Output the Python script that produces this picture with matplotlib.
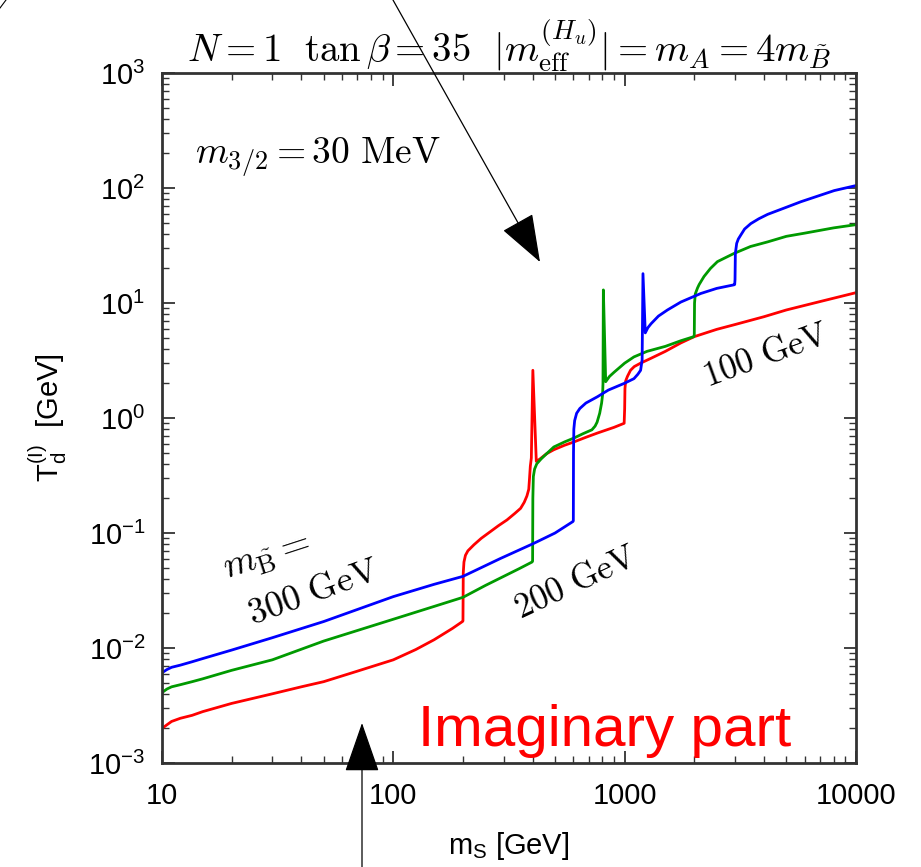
import numpy as np
import matplotlib
matplotlib.use("Agg")
import matplotlib.pyplot as plt
from matplotlib.ticker import LogLocator, FixedLocator, FuncFormatter, NullFormatter

plt.rcParams['font.family'] = ['Liberation Sans', 'DejaVu Sans']
plt.rcParams['mathtext.fontset'] = 'cm'

# ---- curves: T_d (imaginary part) vs m_S, for three bino masses ----
red_ms = [10, 10.5, 11, 12, 13.5, 15, 20, 30, 40, 50, 70, 100, 125, 150, 180, 199, 200, 200.6, 202, 205,
          210, 223, 240, 263, 285, 310, 335, 355, 368, 378, 385, 388, 391, 395, 401, 415, 430, 460, 494,
          550, 604, 680, 762, 900, 995, 1000, 1003, 1010, 1028, 1060, 1100, 1172, 1297, 1500, 1750, 2000,
          2500, 3000, 4000, 5000, 7000, 10000]
red_T = [0.0020, 0.00215, 0.0023, 0.00245, 0.0026, 0.0028, 0.0033, 0.0040, 0.0046, 0.0051, 0.0063, 0.0079,
         0.0097, 0.0118, 0.0148, 0.0170, 0.0172, 0.045, 0.056, 0.064,
         0.070, 0.079, 0.090, 0.103, 0.116, 0.13, 0.148, 0.164, 0.185, 0.21, 0.24, 0.30, 0.38, 0.45, 2.6,
         0.42, 0.44, 0.49, 0.53,
         0.58, 0.62, 0.68, 0.74, 0.83, 0.90, 1.2, 1.8, 2.1, 2.3, 2.6, 2.8, 3.0, 3.3, 3.8, 4.5, 5.1,
         5.9, 6.5, 7.6, 8.7, 10.3, 12.3]

green_ms = [10, 10.5, 11, 12, 13.5, 15, 20, 30, 50, 100, 150, 200, 250, 300, 350, 398, 400, 401, 403, 408,
            417, 435, 450, 494, 550, 604, 660, 722, 745, 760, 780, 795, 803, 806, 809, 828, 860, 900, 1000,
            1097, 1250, 1500, 1750, 1990, 2000, 2005, 2020, 2065, 2100, 2203, 2350, 2518, 2750, 2972, 3500,
            4150, 5000, 6000, 8000, 10000]
green_T = [0.0041, 0.0044, 0.0046, 0.0048, 0.0051, 0.0054, 0.0064, 0.0079, 0.0115, 0.0178, 0.023, 0.0276,
           0.035, 0.042, 0.049, 0.056, 0.057, 0.2, 0.31, 0.36,
           0.40, 0.44, 0.47, 0.56, 0.62, 0.67, 0.73, 0.79, 0.85, 0.92, 1.1, 1.35, 1.6, 2.0, 13.0, 2.07,
           2.3, 2.5, 3.0,
           3.4, 3.8, 4.2, 4.7, 5.1, 5.3, 10.0, 12.0, 13.5, 14.5, 17.0, 20.0, 22.9, 25.0, 27.0, 31.0,
           34.0, 38.0, 40.5, 45.0, 48.0]

blue_ms = [10, 10.5, 11, 12, 13.5, 15, 20, 30, 50, 100, 150, 200, 290, 403, 500, 598, 600, 601, 603, 608,
           620, 640, 680, 762, 850, 995, 1097, 1140, 1172, 1190, 1200, 1228, 1260, 1300, 1400, 1531, 1750,
           2133, 2500, 2972, 2990, 3000, 3010, 3050, 3100, 3177, 3300, 3508, 3800, 4150, 5000, 5781, 8057,
           10000]
blue_T = [0.0061, 0.0065, 0.0068, 0.0071, 0.0076, 0.0081, 0.0096, 0.0123, 0.017, 0.028, 0.0358, 0.042,
          0.060, 0.081, 0.10, 0.126, 0.128, 0.5, 0.8, 0.95,
          1.1, 1.21, 1.35, 1.53, 1.75, 2.0, 2.2, 2.4, 2.6, 3.2, 18.0, 5.5, 6.1, 6.6, 7.7, 8.7, 10.2,
          12.1, 13.4, 14.4, 14.5, 16.0, 27.0, 33.0, 36.0, 39.0, 44.0, 49.0, 54.0, 59.0, 68.0, 76.0, 95.0,
          105.0]

x_ticks = [10, 100, 1000, 10000]
y_exps = [-3, -2, -1, 0, 1, 2, 3]

fig = plt.figure(figsize=(9.21, 8.67), dpi=100)
ax = fig.add_axes([0.1759, 0.1199, 0.7535, 0.7959])

lw = 2.0
ax.plot(red_ms, red_T, color='#ff0000', lw=lw)
ax.plot(green_ms, green_T, color='#009a00', lw=lw)
ax.plot(blue_ms, blue_T, color='#0000ff', lw=lw)

ax.set_xscale('log')
ax.set_yscale('log')
ax.set_xlim(10, 10000)
ax.set_ylim(1e-3, 1e3)

ax.xaxis.set_major_locator(FixedLocator(x_ticks))
ax.xaxis.set_major_formatter(FuncFormatter(lambda v, p: '%d' % v))
ax.xaxis.set_minor_locator(LogLocator(base=10, subs=np.arange(2, 10)))
ax.xaxis.set_minor_formatter(NullFormatter())
ax.yaxis.set_major_locator(FixedLocator([10.0 ** e for e in y_exps]))
ax.yaxis.set_major_formatter(FuncFormatter(
    lambda v, p: r'$\mathregular{10^{%d}}$' % int(round(np.log10(v)))))
ax.yaxis.set_minor_locator(LogLocator(base=10, subs=np.arange(2, 10)))
ax.yaxis.set_minor_formatter(NullFormatter())

ax.tick_params(which='both', direction='in', top=True, right=True, color='#333333')
ax.tick_params(which='major', length=9, width=1.3, labelsize=21)
ax.tick_params(which='minor', length=5, width=1.0)
ax.tick_params(axis='x', pad=14)
ax.tick_params(axis='y', pad=12)
for s in ax.spines.values():
    s.set_linewidth(2.0)
    s.set_color('#333333')

ax.set_xlabel(r'$\mathregular{m_S}$ [GeV]', fontsize=21, labelpad=14)
ax.set_ylabel(r'$\mathregular{T_d^{(I)}}$  [GeV]', fontsize=21, labelpad=14)

# annotations
fig.text(0.553, 0.948,
         r'$N=1\ \ \tan\beta=35\ \ |m_{\rm eff}^{(H_u)}|=m_A=4m_{\tilde{B}}$',
         fontsize=28, ha='center', va='center')
ax.text(0.048, 0.878, r'$m_{3/2}=30\ {\rm MeV}$', transform=ax.transAxes, fontsize=27,
        ha='left', va='center')
ax.text(0.152, 0.298, r'$m_{\tilde{\rm B}}=$', transform=ax.transAxes, fontsize=27,
        rotation=18, ha='center', va='center')
ax.text(0.218, 0.247, r'$300\ {\rm GeV}$', transform=ax.transAxes, fontsize=26,
        rotation=20, ha='center', va='center')
ax.text(0.596, 0.262, r'$200\ {\rm GeV}$', transform=ax.transAxes, fontsize=25,
        rotation=25, ha='center', va='center')
ax.text(0.870, 0.590, r'$100\ {\rm GeV}$', transform=ax.transAxes, fontsize=25,
        rotation=20, ha='center', va='center')
ax.text(0.638, 0.047, 'Imaginary part', transform=ax.transAxes, fontsize=42,
        color='#ff0000', ha='center', va='center')

# pointer arrows drawn over the figure
W, H = 921.0, 867.0
fig.add_artist(matplotlib.patches.FancyArrowPatch(
    (393 / W, 1.0), (540 / W, 1 - 262 / H), transform=fig.transFigure,
    arrowstyle='-|>,head_length=2.2,head_width=0.8', mutation_scale=14,
    color='black', lw=0.9, shrinkA=0, shrinkB=0))
fig.add_artist(matplotlib.patches.FancyArrowPatch(
    (362 / W, 0.0), (362 / W, 1 - 723 / H), transform=fig.transFigure,
    arrowstyle='-|>,head_length=2.3,head_width=0.8', mutation_scale=14,
    color='black', lw=0.9, shrinkA=0, shrinkB=0))
fig.add_artist(matplotlib.lines.Line2D([0, 6 / W], [1 - 8 / H, 1.0],
                                       transform=fig.transFigure, color='black', lw=0.8))

fig.savefig('out.png', dpi=100)
